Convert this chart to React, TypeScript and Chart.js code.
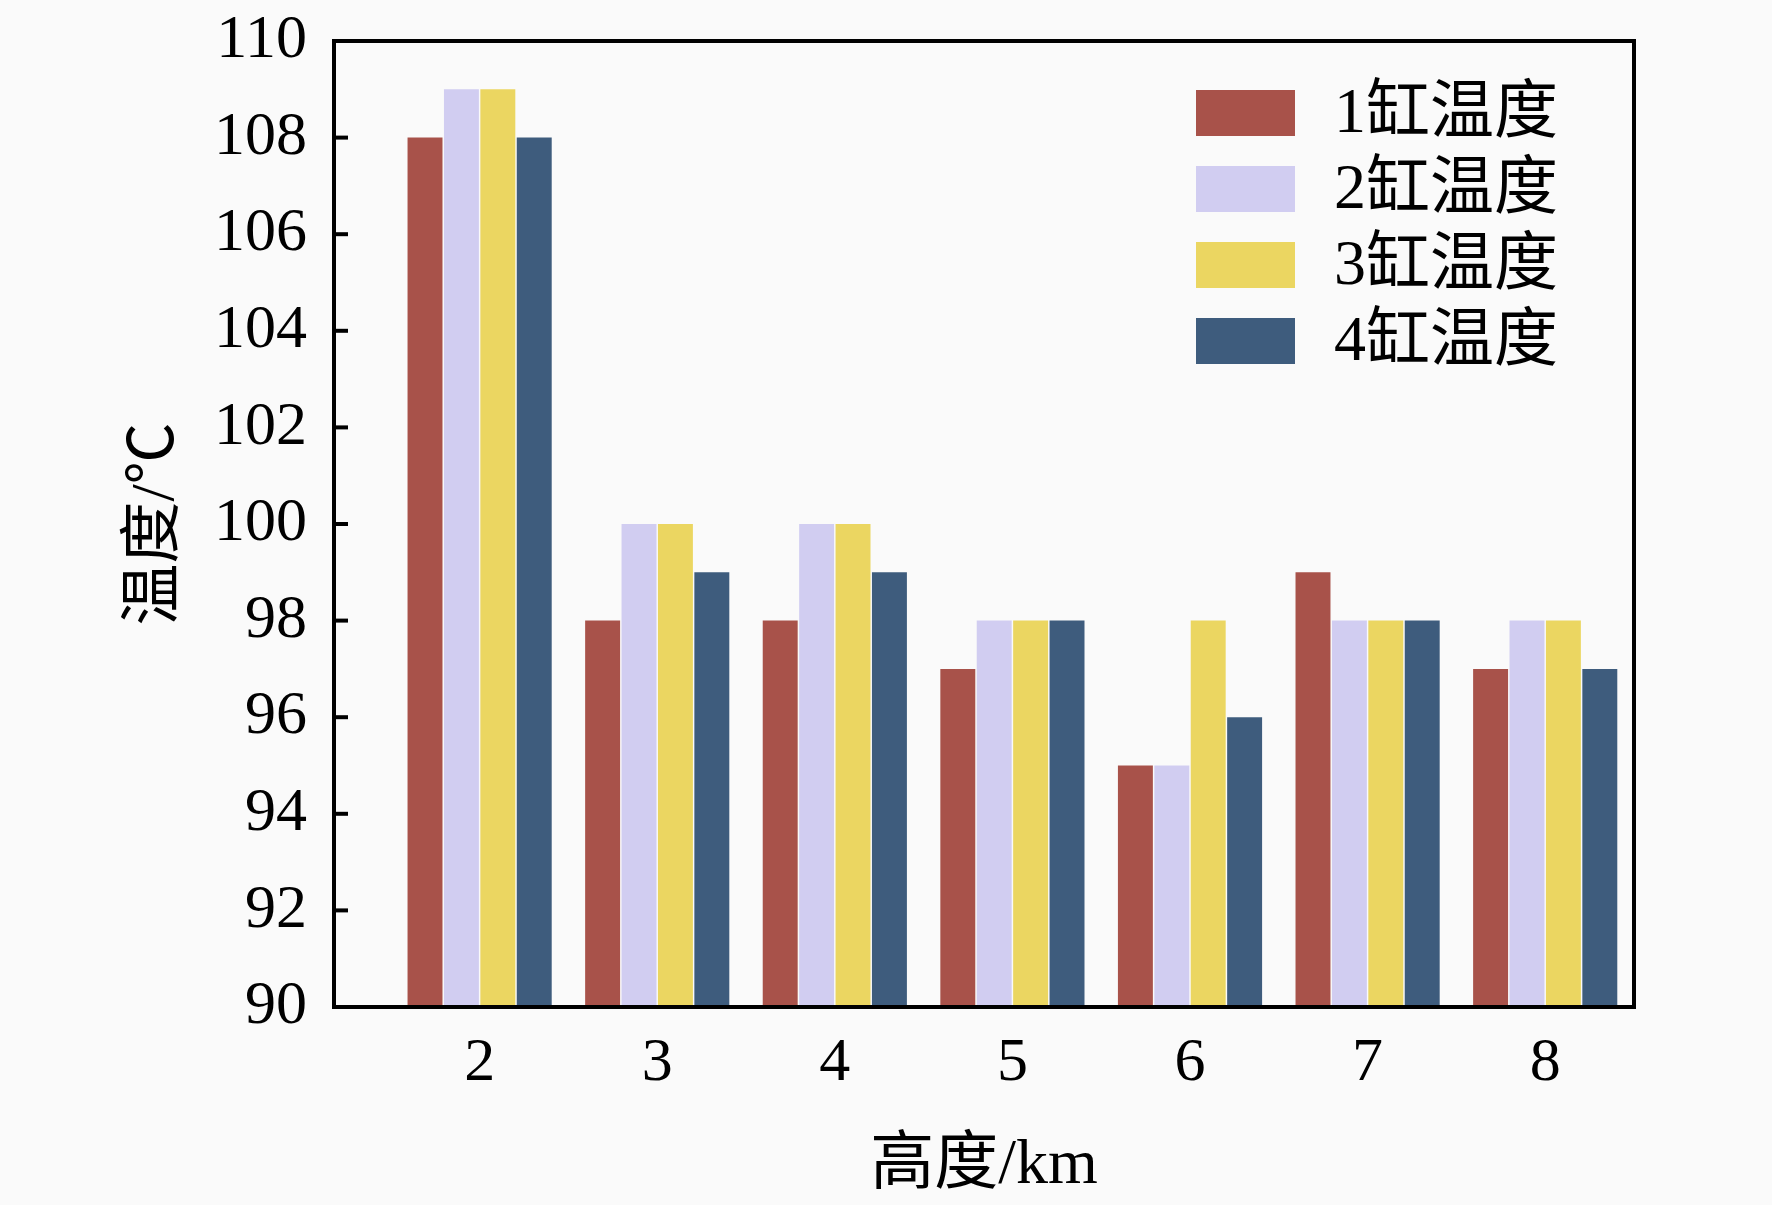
import { useEffect, useRef } from "react";
import { Chart, registerables } from "chart.js";

Chart.register(...registerables);

// 高度 (km) on the x axis
const heights = [2, 3, 4, 5, 6, 7, 8];
const cylinder1 = [108, 98, 98, 97, 95, 99, 97];
const cylinder2 = [109, 100, 100, 98, 95, 98, 98];
const cylinder3 = [109, 100, 100, 98, 98, 98, 98];
const cylinder4 = [108, 99, 99, 98, 96, 98, 97];
const seriesLabels = ["1缸温度", "2缸温度", "3缸温度", "4缸温度"];
const seriesColors = ["#A8524A", "#D1CDF1", "#EBD661", "#3E5C7D"];

const FONT = '"Liberation Serif", "Noto Sans CJK SC", serif';

const background = {
  id: "background",
  beforeDraw(chart: Chart) {
    const { ctx, width, height } = chart;
    ctx.save();
    ctx.fillStyle = "#FAFAFA";
    ctx.fillRect(0, 0, width, height);
    ctx.restore();
  },
};

const frame = {
  id: "frame",
  afterDatasetsDraw(chart: Chart) {
    const { ctx, chartArea } = chart;
    const yScale = chart.scales.y;
    ctx.save();
    ctx.strokeStyle = "#000";
    ctx.lineWidth = 4;
    // inward tick marks on the left edge
    yScale.ticks.forEach((t) => {
      const y = yScale.getPixelForValue(t.value);
      ctx.beginPath();
      ctx.moveTo(chartArea.left, y);
      ctx.lineTo(chartArea.left + 14, y);
      ctx.stroke();
    });
    ctx.strokeRect(
      chartArea.left,
      chartArea.top,
      chartArea.right - chartArea.left,
      chartArea.bottom - chartArea.top
    );
    ctx.restore();
  },
};

const legendInside = {
  id: "legendInside",
  afterDraw(chart: Chart) {
    const { ctx, chartArea } = chart;
    const x0 = chartArea.right - 438;
    const y0 = chartArea.top + 72;
    ctx.save();
    chart.data.datasets.forEach((ds, i) => {
      const cy = y0 + i * 76;
      ctx.fillStyle = ds.backgroundColor as string;
      ctx.fillRect(x0, cy - 23, 99, 46);
      ctx.fillStyle = "#000";
      ctx.font = `64px ${FONT}`;
      ctx.textBaseline = "middle";
      ctx.textAlign = "left";
      ctx.fillText(ds.label as string, x0 + 138, cy + 2);
    });
    ctx.restore();
  },
};

const App = () => {
  const chartRef = useRef<HTMLCanvasElement>(null);
  const chartInstance = useRef<Chart | null>(null);

  useEffect(() => {
    document.body.style.margin = "0";
    if (!chartRef.current) return;
    if (chartInstance.current) chartInstance.current.destroy();

    const series = [cylinder1, cylinder2, cylinder3, cylinder4];

    chartInstance.current = new Chart(chartRef.current, {
      type: "bar",
      data: {
        datasets: series.map((values, i) => ({
          label: seriesLabels[i],
          data: values.map((v, j) => ({ x: heights[j], y: v })),
          backgroundColor: seriesColors[i],
          borderWidth: 0,
          base: 90,
          categoryPercentage: 0.82,
          barPercentage: 0.96,
        })),
      },
      options: {
        responsive: false,
        devicePixelRatio: 1,
        animation: false,
        layout: { padding: { top: 41, right: 138, left: 0, bottom: 0 } },
        plugins: {
          legend: { display: false },
          tooltip: { enabled: false },
        },
        scales: {
          x: {
            type: "linear",
            offset: false,
            min: 1.18,
            max: 8.5,
            afterBuildTicks: (scale) => {
              scale.ticks = heights.map((h) => ({ value: h }));
            },
            afterFit: (scale) => {
              scale.height = 198;
            },
            grid: { display: false, drawTicks: false },
            border: { display: false },
            ticks: {
              color: "#000",
              padding: 20,
              font: { family: FONT, size: 62 },
            },
            title: {
              display: true,
              text: "高度/km",
              color: "#000",
              font: { family: FONT, size: 64 },
              padding: { top: 0, bottom: 0 },
            },
          },
          y: {
            min: 90,
            max: 110,
            afterFit: (scale) => {
              scale.width = 334;
              scale.paddingTop = 0;
              scale.paddingBottom = 0;
            },
            grid: { display: false, drawTicks: false },
            border: { display: false },
            ticks: {
              stepSize: 2,
              color: "#000",
              padding: 27,
              font: { family: FONT, size: 62 },
            },
            title: {
              display: true,
              text: "温度/℃",
              color: "#000",
              font: { family: FONT, size: 62 },
              padding: { top: 120, bottom: 0 },
            },
          },
        },
      },
      plugins: [background, frame, legendInside],
    });

    return () => {
      if (chartInstance.current) {
        chartInstance.current.destroy();
        chartInstance.current = null;
      }
    };
  }, []);

  return (
    <div style={{ width: 1772, height: 1205 }}>
      <canvas ref={chartRef} width={1772} height={1205} />
    </div>
  );
};

export default App;
